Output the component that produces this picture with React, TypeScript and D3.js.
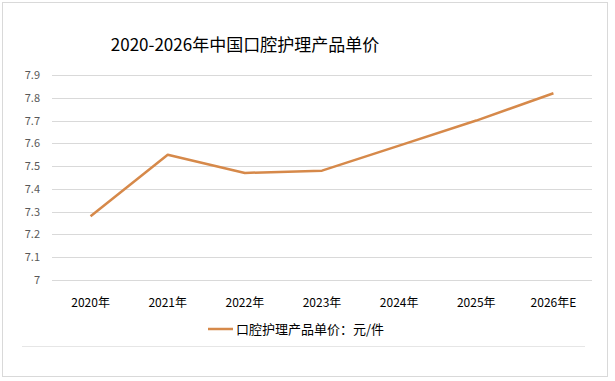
import React from "react";
import * as d3 from "d3";

const categories = ["2020年", "2021年", "2022年", "2023年", "2024年", "2025年", "2026年E"];
const values = [7.28, 7.55, 7.47, 7.48, 7.59, 7.70, 7.82];
const yTicks = [7, 7.1, 7.2, 7.3, 7.4, 7.5, 7.6, 7.7, 7.8, 7.9];
const title = "2020-2026年中国口腔护理产品单价";
const legendLabel = "口腔护理产品单价：元/件";

const W = 615;
const H = 381;
const font = "'Noto Sans CJK SC', 'Noto Sans', sans-serif";

export default function App() {
  const x = d3.scaleBand<string>().domain(categories).range([52, 592]);
  const y = d3.scaleLinear().domain([7, 7.9]).range([280, 75]);
  const line = d3
    .line<number>()
    .x((_, i) => (x(categories[i]) as number) + x.bandwidth() / 2)
    .y((d) => y(d));

  return (
    <svg
      width={W}
      height={H}
      style={{ position: "absolute", left: 0, top: 0, background: "#fff" }}
      fontFamily={font}
    >
      <rect x={2.5} y={2.5} width={605} height={374} fill="#fff" stroke="#d9d9d9" />
      <line x1={22} x2={585} y1={346.5} y2={346.5} stroke="#e6e6e6" />
      <text x={245} y={51} textAnchor="middle" fontSize={17} fill="#000">
        {title}
      </text>
      {yTicks.map((t) => (
        <g key={t}>
          <line x1={52} x2={592} y1={Math.round(y(t)) + 0.5} y2={Math.round(y(t)) + 0.5} stroke="#d9d9d9" />
          <text x={40} y={y(t) + 4} textAnchor="end" fontSize={11} fill="#595959">
            {d3.format("")(+t.toFixed(1))}
          </text>
        </g>
      ))}
      {categories.map((c) => (
        <text
          key={c}
          x={(x(c) as number) + x.bandwidth() / 2}
          y={307}
          textAnchor="middle"
          fontSize={12}
          fill="#000"
        >
          {c}
        </text>
      ))}
      <path d={line(values) || ""} fill="none" stroke="#D6894A" strokeWidth={2.5} strokeLinejoin="round" />
      <line x1={208} x2={233} y1={329} y2={329} stroke="#D6894A" strokeWidth={2.5} />
      <text x={236} y={333.5} fontSize={13} fill="#000">
        {legendLabel}
      </text>
    </svg>
  );
}
